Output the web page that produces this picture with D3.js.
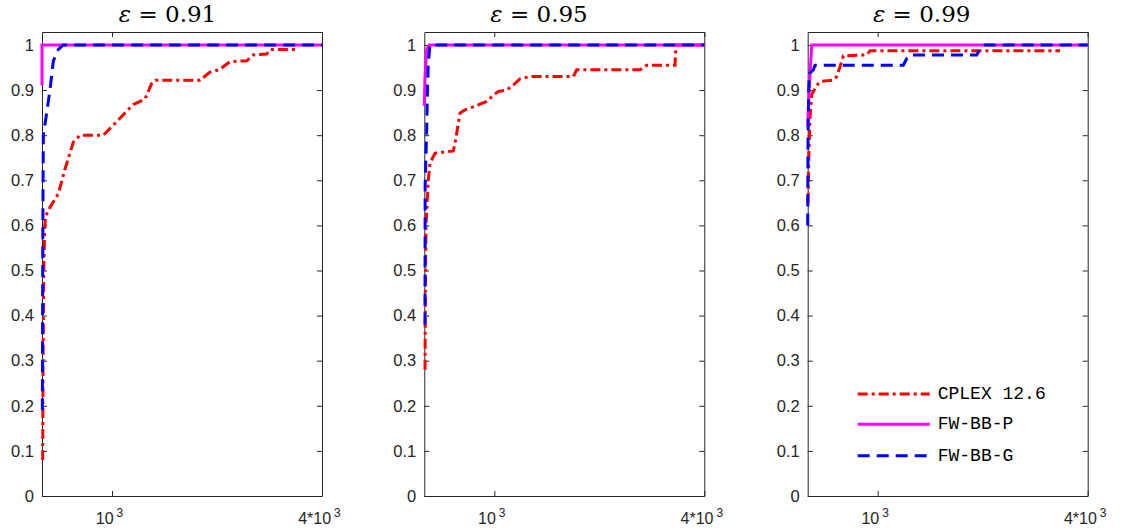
<!DOCTYPE html>
<html lang="en">
<head>
    <meta charset="UTF-8">
    <script src="https://d3js.org/d3.v7.min.js"></script>
    <title>Performance profiles</title>
    <style>
        body { margin: 0; background: #fff; }
        svg { display: block; }
    </style>
</head>
<body>
    <script>
        //values, points are [time, fraction of instances]
        const epsilons = ["0.91", "0.95", "0.99"];
        const seriesNames = ["CPLEX 12.6", "FW-BB-P", "FW-BB-G"];
        const yTicks = [0, 0.1, 0.2, 0.3, 0.4, 0.5, 0.6, 0.7, 0.8, 0.9, 1];
        const yTickLabels = ["0", "0.1", "0.2", "0.3", "0.4", "0.5", "0.6", "0.7", "0.8", "0.9", "1"];
        const xTicks = [1000, 4000];
        const xTickBases = ["10", "4*10"];
        const xTickExps = ["3", "3"];

        const cplex091 = [[10, 0.08], [15, 0.3], [25, 0.5], [38, 0.59], [50, 0.62], [114, 0.64], [233, 0.67], [329, 0.725],
            [448, 0.785], [543, 0.8], [876, 0.8], [1067, 0.83], [1233, 0.857], [1305, 0.868], [1471, 0.88], [1567, 0.915],
            [1620, 0.922], [2257, 0.922], [2400, 0.94], [2530, 0.945], [2686, 0.963], [2924, 0.965], [3019, 0.978],
            [3210, 0.98], [3257, 0.99], [3614, 0.99]];
        const fwbbp091 = [[0, 0.91], [0, 1], [4000, 1]];
        const fwbbg091 = [[5, 0.19], [10, 0.5], [15, 0.7], [19, 0.8], [67, 0.85], [114, 0.9], [162, 0.965], [233, 0.99], [305, 1], [4000, 1]];

        const cplex095 = [[10, 0.28], [15, 0.45], [24, 0.6], [40, 0.65], [57, 0.7], [81, 0.738], [153, 0.76], [414, 0.765],
            [439, 0.782], [510, 0.849], [581, 0.856], [771, 0.867], [891, 0.875], [963, 0.885], [1057, 0.897], [1176, 0.9],
            [1248, 0.908], [1367, 0.925], [1510, 0.93], [2129, 0.93], [2177, 0.945], [3081, 0.945], [3176, 0.955],
            [3581, 0.955], [3595, 1], [4000, 1]];
        const fwbbp095 = [[0, 0.865], [10, 0.93], [34, 0.99], [70, 1], [4000, 1]];
        const fwbbg095 = [[10, 0.38], [12, 0.69], [34, 0.81], [45, 0.9], [57, 0.96], [81, 1], [4000, 1]];

        const cplex099 = [[5, 0.65], [15, 0.75], [33, 0.84], [57, 0.89], [129, 0.91], [176, 0.919], [366, 0.922], [414, 0.93],
            [462, 0.952], [509, 0.976], [843, 0.978], [890, 0.987], [3604, 0.987]];
        const fwbbp099 = [[0, 0.82], [20, 0.9], [57, 1], [4000, 1]];
        const fwbbg099 = [[0, 0.6], [5, 0.8], [15, 0.9], [23, 0.937], [81, 0.945], [104, 0.955], [1366, 0.955], [1414, 0.97],
            [1462, 0.978], [2414, 0.978], [2460, 0.99], [2510, 1], [4000, 1]];

        const panels = [
            [cplex091, fwbbp091, fwbbg091],
            [cplex095, fwbbp095, fwbbg095],
            [cplex099, fwbbp099, fwbbg099]
        ];

        //layout
        const w = 1127;
        const h = 530;
        const panelLeft = [42, 424.3, 807.7];
        const panelW = 280;
        const plotTop = 32;
        const plotBottom = 496;
        const titleX = [167.5, 539, 921.7];
        const axisColor = "#262626";
        const colors = ["#ff0000", "#ff00ff", "#0000ff"];
        const dashes = ["10,4,3,4", null, "12,7"];

        const svg = d3.select("body").append("svg")
        .attr("width", w)
        .attr("height", h);

        const xScale = d3.scaleLinear().domain([0, 4000]).range([0, panelW]);
        const yScale = d3.scaleLinear().domain([0, 1.0288]).range([plotBottom, plotTop]);

        const line = d3.line()
        .x(d => xScale(d[0]))
        .y(d => yScale(d[1]));

        panels.forEach((series, i) => {
            const g = svg.append("g")
            .attr("transform", "translate(" + panelLeft[i] + ",0)");

            //axes, ticks pointing inwards like a matlab box
            const left = g.append("g")
            .call(d3.axisLeft(yScale).tickValues(yTicks).tickSize(-5).tickSizeOuter(0).tickPadding(8)
                .tickFormat((d, k) => yTickLabels[k]));

            g.append("g")
            .attr("transform", "translate(" + panelW + ",0)")
            .call(d3.axisRight(yScale).tickValues(yTicks).tickSize(-5).tickSizeOuter(0).tickFormat(""));

            g.append("g")
            .attr("transform", "translate(0," + plotTop + ")")
            .call(d3.axisTop(xScale).tickValues(xTicks).tickSize(-5).tickSizeOuter(0).tickFormat(""));

            const bottomAxis = g.append("g")
            .attr("transform", "translate(0," + plotBottom + ")")
            .call(d3.axisBottom(xScale).tickValues(xTicks).tickSize(-5).tickSizeOuter(0).tickFormat(""));

            g.selectAll(".domain, .tick line")
            .attr("stroke", axisColor)
            .attr("stroke-width", 1);

            left.selectAll("text")
            .attr("fill", axisColor)
            .attr("font-family", "Liberation Sans, Arial, sans-serif")
            .attr("font-size", 16.5);

            //x labels with superscript exponent
            const xl = bottomAxis.selectAll(".tick")
            .append("text")
            .attr("x", -3)
            .attr("y", 28)
            .attr("fill", axisColor)
            .attr("text-anchor", "middle")
            .attr("font-family", "Liberation Sans, Arial, sans-serif")
            .attr("font-size", 16);
            xl.append("tspan").text((d, k) => xTickBases[k]);
            xl.append("tspan")
            .attr("dx", 3)
            .attr("dy", -7)
            .attr("font-size", 12)
            .text((d, k) => xTickExps[k]);

            //curves
            series.forEach((pts, s) => {
                g.append("path")
                .datum(pts)
                .attr("d", line)
                .attr("fill", "none")
                .attr("stroke", colors[s])
                .attr("stroke-width", 3)
                .attr("stroke-dasharray", dashes[s]);
            });

            //title
            const t = svg.append("text")
            .attr("x", titleX[i])
            .attr("y", 22)
            .attr("text-anchor", "middle")
            .attr("font-family", "DejaVu Serif, serif")
            .attr("font-size", 23)
            .attr("fill", "#000");
            t.append("tspan").attr("font-style", "italic").text("\u03b5");
            t.append("tspan").text(" = " + epsilons[i]);
        });

        //legend inside the last panel
        const legend = svg.append("g")
        .attr("transform", "translate(" + panelLeft[2] + ",0)");
        const legendRows = [394, 424.3, 455.7];
        seriesNames.forEach((name, s) => {
            legend.append("line")
            .attr("x1", 50)
            .attr("x2", 122)
            .attr("y1", legendRows[s])
            .attr("y2", legendRows[s])
            .attr("stroke", colors[s])
            .attr("stroke-width", 3)
            .attr("stroke-dasharray", dashes[s]);
            legend.append("text")
            .attr("x", 130)
            .attr("y", legendRows[s])
            .attr("dominant-baseline", "central")
            .attr("font-family", "Liberation Mono, monospace")
            .attr("font-size", 18)
            .attr("fill", "#000")
            .text(name);
        });
    </script>
</body>
</html>
